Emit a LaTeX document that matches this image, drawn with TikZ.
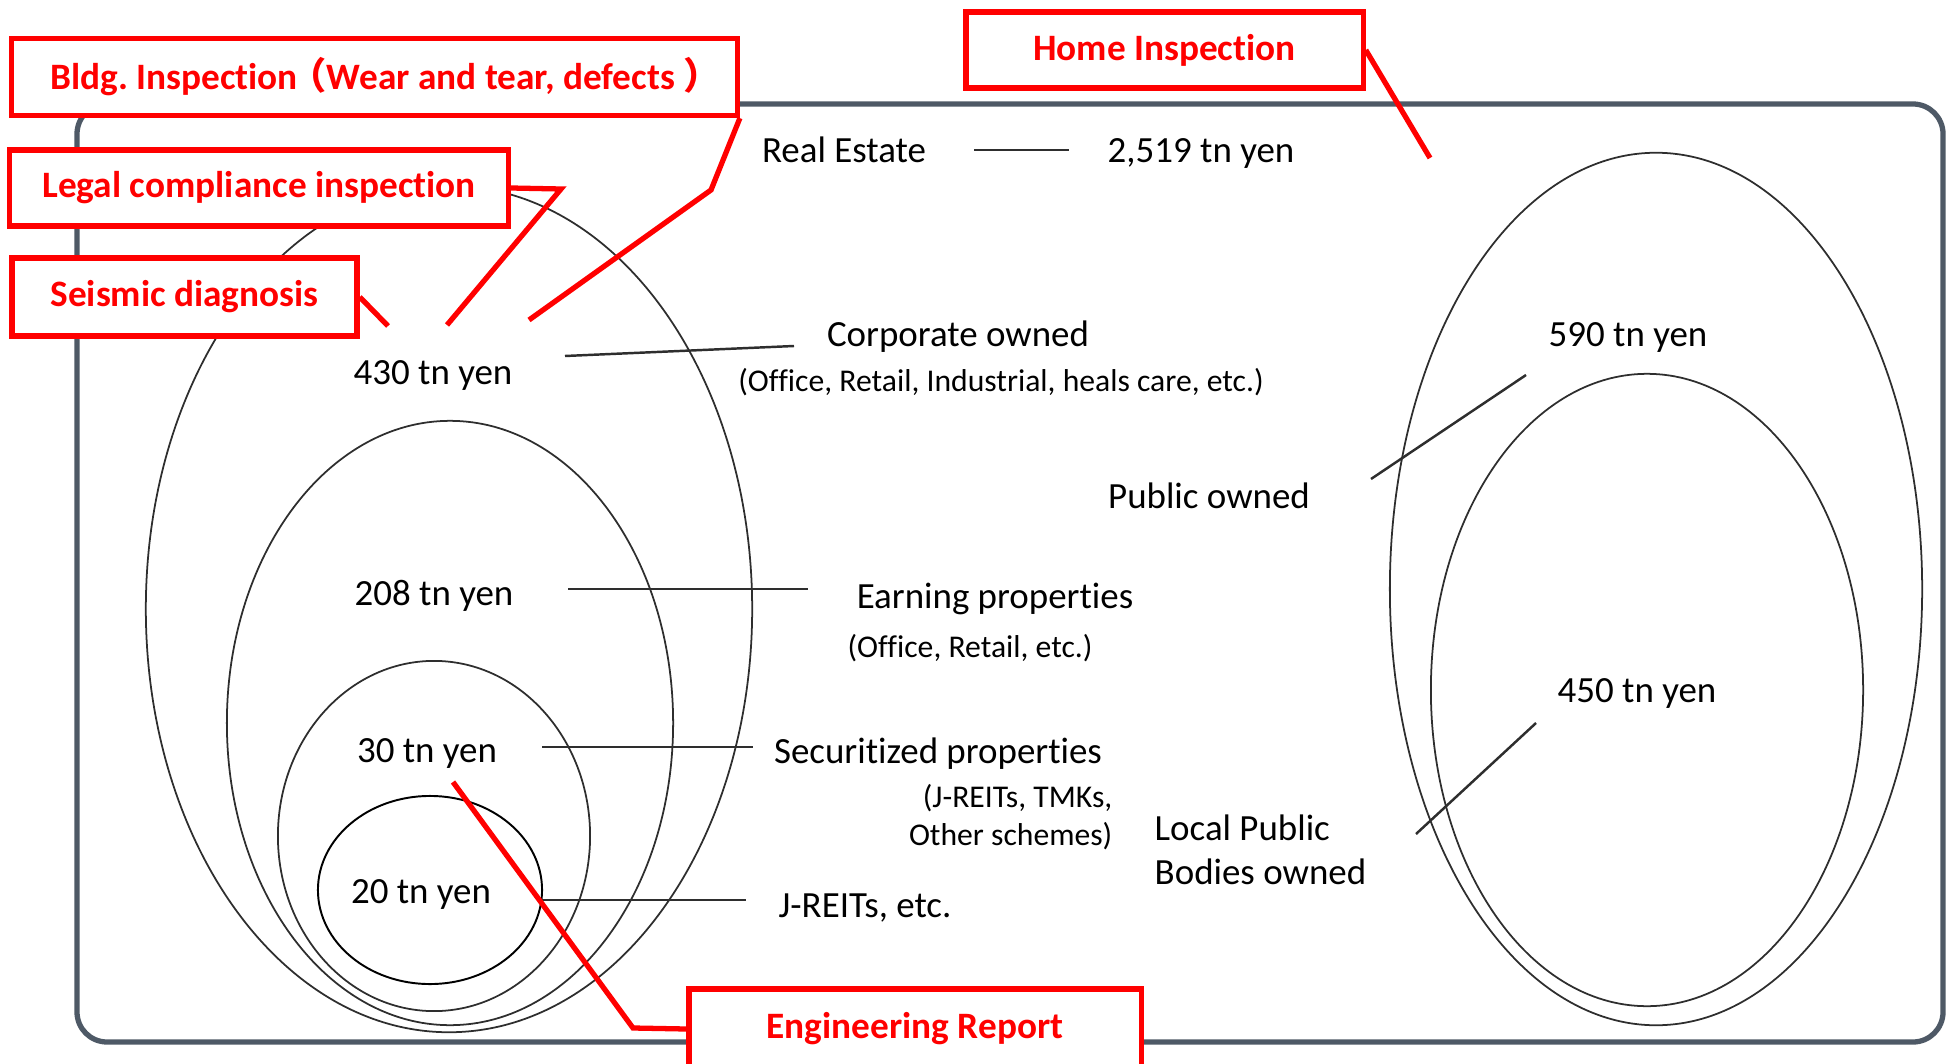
\documentclass[tikz,border=0pt]{standalone}
\usepackage{fontspec}
\setmainfont{Carlito}[Ligatures=NoCommon]
\newfontfamily\cjk{Noto Sans CJK JP}
\definecolor{framec}{HTML}{4E5966}
\definecolor{redc}{HTML}{FF0000}
\definecolor{ellc}{HTML}{2E2E2E}
\begin{document}
\begin{tikzpicture}[x=0.01cm,y=-0.01cm,
  redbox/.style={draw=redc, line width=1.5pt, fill=white, text=redc, font=\fontsize{10.6}{12}\selectfont\bfseries, inner sep=0pt},
  redline/.style={draw=redc, line width=1.5pt, line join=miter},
  big/.style={font=\fontsize{10.5}{12.3}\selectfont, inner sep=0pt},
  small/.style={font=\fontsize{9}{10.8}\selectfont, inner sep=0pt},
  ellline/.style={draw=ellc, line width=0.5pt},
  conn/.style={draw=ellc, line width=0.7pt},
  frameline/.style={draw=framec, line width=1.5pt, rounded corners=0.3cm}]
\useasboundingbox (0,0) rectangle (1946,1064);
% outer frame
\draw[frameline] (77,104) rectangle (1943,1042);
% left ellipses
\draw[ellline] (449,609) ellipse [x radius=3.03cm, y radius=4.23cm];
\draw[ellline] (450,723) ellipse [x radius=2.23cm, y radius=3.02cm];
\draw[ellline] (434,836) ellipse [x radius=1.56cm, y radius=1.75cm];
\draw[draw=black, line width=0.55pt] (430,890) ellipse [x radius=1.12cm, y radius=0.94cm];
% right ellipses
\draw[ellline] (1656,589) ellipse [x radius=2.66cm, y radius=4.36cm];
\draw[ellline] (1647,690) ellipse [x radius=2.16cm, y radius=3.16cm];
% texts
\node[big, anchor=base] (re) at (844,163) {Real Estate};
\node[big, anchor=base] (tot) at (1201,163) {2,519 tn yen};
\node[big, anchor=base] (v430) at (433,384) {430 tn yen};
\node[big, anchor=base] (corp) at (958,347) {Corporate owned};
\node[small, anchor=base] (corpx) at (1001,392) {(Office, Retail, Industrial, heals care, etc.)};
\node[big, anchor=base] (v208) at (434,605) {208 tn yen};
\node[big, anchor=base] (earn) at (995,608) {Earning properties};
\node[small, anchor=base] (earnx) at (970,657) {(Office, Retail, etc.)};
\node[big, anchor=base] (v30) at (427,762) {30 tn yen};
\node[big, anchor=base] (sec) at (938,763) {Securitized properties};
\node[small, anchor=base east, align=right] (secx) at (1113,845) {(J-REITs, TMKs,\\Other schemes)};
\node[big, anchor=base] (v20) at (421,903) {20 tn yen};
\node[big, anchor=base] (jr) at (865,917) {J-REITs, etc.};
\node[big, anchor=base] (pub) at (1209,508) {Public owned};
\node[big, anchor=base] (v590) at (1628,347) {590 tn yen};
\node[big, anchor=base] (v450) at (1637,702) {450 tn yen};
\node[big, anchor=base west, align=left] (loc) at (1154,884) {Local Public\\Bodies owned};
% connector lines
\coordinate (reA) at (974,150); \coordinate (reB) at (1069,150);
\draw[conn] (reA) -- (reB);
\coordinate (cA) at (565,356); \coordinate (cB) at (794,346);
\draw[conn] (cA) -- (cB);
\coordinate (eA) at (568,589); \coordinate (eB) at (808,589);
\draw[conn] (eA) -- (eB);
\coordinate (sA) at (542,747); \coordinate (sB) at (753,747);
\draw[conn] (sA) -- (sB);
\coordinate (jA) at (542,900); \coordinate (jB) at (746,900);
\draw[conn] (jA) -- (jB);
\coordinate (pA) at (1371,479); \coordinate (pB) at (1526,375);
\draw[conn] (pA) -- (pB);
\coordinate (lA) at (1416,834); \coordinate (lB) at (1536,723);
\draw[conn] (lA) -- (lB);
% red boxes
\node[redbox, minimum width=7.25cm, minimum height=0.77cm] (bldg) at (374.5,77) {\hspace{0.22cm}Bldg.\ Inspection\hspace{-0.08cm}{\cjk\bfseries （}Wear and tear, defects {\cjk\bfseries ）}};
\node[redbox, minimum width=4.98cm, minimum height=0.76cm] (legal) at (259,188) {Legal compliance inspection};
\node[redbox, minimum width=3.45cm, minimum height=0.78cm] (seis) at (184.5,297) {Seismic diagnosis};
\node[redbox, minimum width=3.97cm, minimum height=0.76cm] (home) at (1164.5,50) {Home Inspection};
\node[redbox, minimum width=4.52cm, minimum height=0.80cm] (eng) at (915,1029) {Engineering Report};
% red leader lines
\coordinate (bK) at (711,190); \coordinate (bE) at (529,320);
\draw[redline] (bldg.south east) -- (bK) -- (bE);
\coordinate (gK) at (561,189); \coordinate (gE) at (447,325);
\draw[redline] (legal.east) -- (gK) -- (gE);
\coordinate (sE) at (388,326);
\draw[redline] (seis.east) -- (sE);
\coordinate (hE) at (1430,158);
\draw[redline] (home.east) -- (hE);
\coordinate (nK) at (633,1028); \coordinate (nE) at (453,782);
\draw[redline] (eng.west) -- (nK) -- (nE);
\end{tikzpicture}
\end{document}
